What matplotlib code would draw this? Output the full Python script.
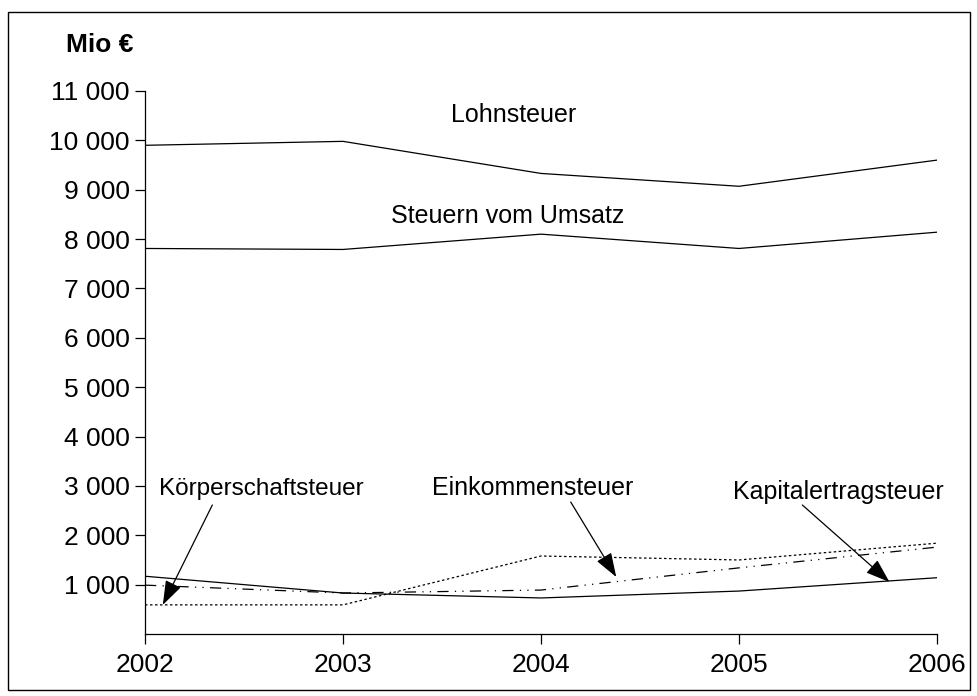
import matplotlib.pyplot as plt
from matplotlib.patches import Rectangle
from matplotlib.ticker import FuncFormatter

plt.rcParams['font.family'] = ['Liberation Sans', 'DejaVu Sans']

years = [2002, 2003, 2004, 2005, 2006]
lohnsteuer = [9900, 9980, 9330, 9070, 9600]
umsatz = [7810, 7790, 8100, 7810, 8140]
koerperschaft = [590, 590, 1580, 1500, 1840]     # dotted
einkommen = [990, 830, 890, 1340, 1760]          # dash-dot
kapitalertrag = [1170, 830, 730, 870, 1140]      # solid
y_ticks = [1000, 2000, 3000, 4000, 5000, 6000, 7000, 8000, 9000, 10000, 11000]

fig = plt.figure(figsize=(9.78, 6.96), dpi=100)
fig.patches.append(Rectangle((8 / 978, 6 / 696), 962 / 978, 678 / 696,
                             transform=fig.transFigure, fill=False,
                             edgecolor='black', linewidth=1))
ax = fig.add_axes([145 / 978, 62 / 696, 792 / 978, 543 / 696])

ax.plot(years, lohnsteuer, color='black', lw=0.9)
ax.plot(years, umsatz, color='black', lw=0.9)
ax.plot(years, koerperschaft, color='black', lw=0.9, dashes=(2, 2))
ax.plot(years, einkommen, color='black', lw=0.9, dashes=(9, 5, 1, 5, 1, 5))
ax.plot(years, kapitalertrag, color='black', lw=0.9)

ax.set_xlim(2002, 2006)
ax.set_ylim(0, 11000)
ax.set_xticks(years)
ax.set_yticks(y_ticks)
ax.yaxis.set_major_formatter(FuncFormatter(lambda v, p: f'{int(v):,}'.replace(',', ' ')))
ax.tick_params(labelsize=19, length=7, width=0.9, direction='out', pad=4)
ax.tick_params(axis='x', pad=7)
for s in ['top', 'right']:
    ax.spines[s].set_visible(False)
for s in ['left', 'bottom']:
    ax.spines[s].set_linewidth(0.9)

fig.text(100 / 978, 1 - 45 / 696, 'Mio €', fontsize=19, fontweight='bold',
         ha='center', va='center')

fs = 18
ax.text(2003.86, 10373, 'Lohnsteuer', fontsize=fs, ha='center', va='baseline')
ax.text(2003.83, 8327, 'Steuern vom Umsatz', fontsize=fs, ha='center', va='baseline')
ax.text(2002.586, 2816, 'Körperschaftsteuer', fontsize=17.5, ha='center', va='baseline')
ax.text(2003.96, 2816, 'Einkommensteuer', fontsize=fs, ha='center', va='baseline')
ax.text(2005.50, 2735, 'Kapitalertragsteuer', fontsize=fs, ha='center', va='baseline')

arrow = dict(arrowstyle='-|>,head_length=1.0,head_width=0.35', color='black',
             lw=0.9, shrinkA=0, shrinkB=0, mutation_scale=15)
ax.annotate('', xy=(2002.09, 590), xytext=(2002.34, 2613), arrowprops=arrow)
ax.annotate('', xy=(2004.38, 1155), xytext=(2004.15, 2674), arrowprops=arrow)
ax.annotate('', xy=(2005.76, 1053), xytext=(2005.32, 2613), arrowprops=arrow)

plt.savefig('out.png', dpi=100)
